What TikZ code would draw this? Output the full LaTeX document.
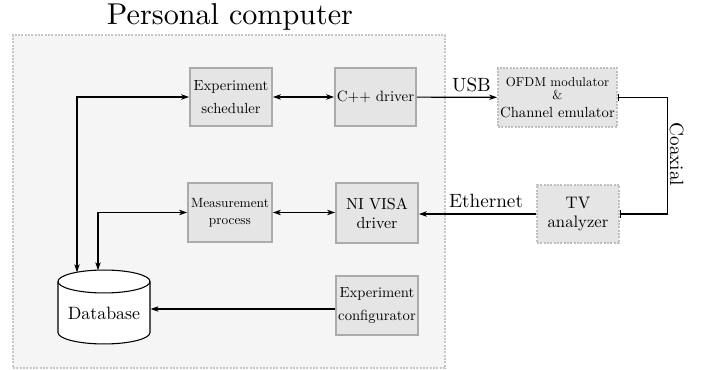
\documentclass[tikz,border=0pt]{standalone}
\usepackage{fontspec}
\setmainfont{lmroman10-regular}[Extension=.otf, BoldFont=lmroman10-bold, ItalicFont=lmroman10-italic]
\usetikzlibrary{arrows.meta,calc}
\begin{document}
\begin{tikzpicture}[
  x=0.75pt, y=-0.75pt,
  >={Stealth[length=6pt,width=4pt,inset=1.6pt]},
  pcbox/.style={draw=black!22, fill=black!4, line width=1.5pt, dash pattern=on 1.5pt off 1pt},
  blk/.style={draw=black!33, fill=black!10, line width=1.2pt, align=center, inner sep=1pt},
  ext/.style={blk, draw=black!25, dash pattern=on 1.5pt off 1pt},
  link/.style={line width=0.9pt, ->},
  duplex/.style={line width=0.9pt, <->},
  coax/.style={line width=0.9pt, {Bar[width=5.5pt]}-{Bar[width=5.5pt]}},
  lbl/.style={font=\fontsize{14.4}{16}\selectfont, inner sep=0pt}
]
\useasboundingbox (0,0) rectangle (707,370);

% computer enclosure and its title
\node[pcbox, minimum width=324pt, minimum height=249.75pt] (pc) at (229,201.5) {};
\node[font=\fontsize{22.6}{26}\selectfont] (title) at (230,17) {Personal computer};

% software blocks
\node[blk, minimum width=61.5pt, minimum height=43.5pt, font=\fontsize{11}{17}\selectfont] (sched) at (231,97) {Experiment\\scheduler};
\node[blk, minimum width=60.75pt, minimum height=43.5pt, font=\fontsize{11.2}{14}\selectfont] (cpp) at (375.5,97) {C++ driver};
\node[blk, minimum width=63pt, minimum height=44.25pt, font=\fontsize{10}{13}\selectfont] (meas) at (230,212.5) {Measurement\\process};
\node[blk, minimum width=61.5pt, minimum height=45pt, font=\fontsize{12}{14.25}\selectfont] (visa) at (377,213) {NI VISA\\driver};
\node[blk, minimum width=61.5pt, minimum height=44.25pt, font=\fontsize{11}{17}\selectfont] (cfg) at (377,305.5) {Experiment\\configurator};

% external instruments
\node[ext, minimum width=89.25pt, minimum height=44.25pt, font=\fontsize{9.7}{9.75}\selectfont] (ofdm) at (557.5,97.5)
  {OFDM modulator\\\&\\[3.6pt]\fontsize{11}{13}\selectfont Channel emulator};
\node[ext, minimum width=61.5pt, minimum height=43.5pt, font=\fontsize{12.5}{14.25}\selectfont] (tv) at (578,214) {TV\\analyzer};

% database cylinder
\draw[fill=white, line width=0.8pt]
  (58,281.5) -- (58,332.5)
  arc[start angle=180, end angle=360, x radius=34.5pt, y radius=8.6pt]
  -- (150,281.5)
  arc[start angle=0, end angle=180, x radius=34.5pt, y radius=8.6pt] -- cycle;
\draw[line width=0.8pt] (58,281.5) arc[start angle=180, end angle=360, x radius=34.5pt, y radius=8.6pt];
\node[font=\fontsize{13.4}{16}\selectfont] (db) at (104,313) {Database};
\coordinate (dbA) at (77,272.3);
\coordinate (dbB) at (98,270.3);
\coordinate (dbR) at (150.5,309);

% connections
\draw[duplex] (dbA) |- (sched.west);
\draw[duplex] (dbB) |- (meas.west);
\draw[duplex] (sched) -- (cpp);
\draw[duplex] (meas.east) -- (meas.east -| visa.west);
\draw[link] (cpp) -- (ofdm);
\node[lbl, anchor=base] (usb) at (471.5,92) {USB};
\draw[link] (tv.west) -- (tv.west -| visa.east);
\node[lbl, anchor=base] (eth) at (486,208) {Ethernet};
\draw[link] (cfg.west |- dbR) -- (dbR);
\draw[coax] (ofdm.east) -- ++(50,0) coordinate (bend) |- (tv.east);
\node[lbl, rotate=-90, anchor=base] (coaxlbl) at (670,154.5) {Coaxial};
\end{tikzpicture}
\end{document}
